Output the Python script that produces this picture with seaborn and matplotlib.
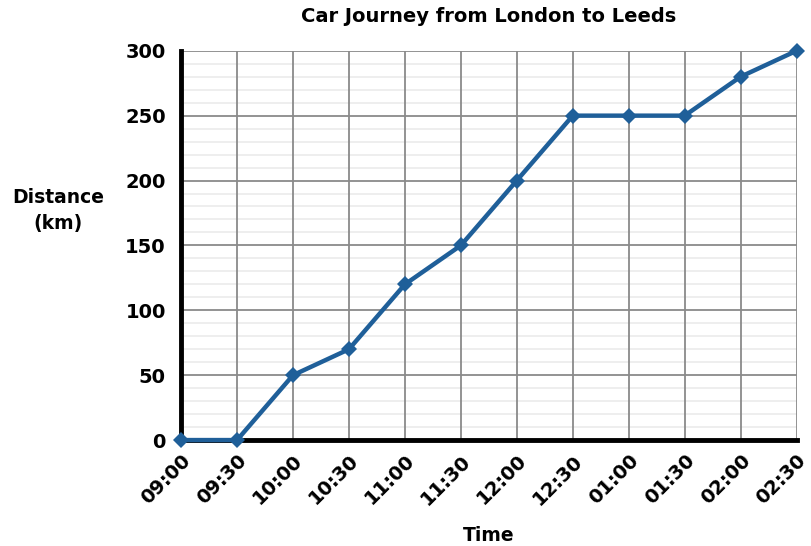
import pandas as pd
import numpy as np
import matplotlib.pyplot as plt
import seaborn as sns
from matplotlib.ticker import MultipleLocator

times = ["09:00", "09:30", "10:00", "10:30", "11:00", "11:30",
         "12:00", "12:30", "01:00", "01:30", "02:00", "02:30"]
distance = [0, 0, 50, 70, 120, 150, 200, 250, 250, 250, 280, 300]

df = pd.DataFrame({"time": times, "distance": distance})
df["pos"] = range(len(df))

sns.set_style("white")
plt.rcParams["font.family"] = ["DejaVu Sans"]
plt.rcParams["font.weight"] = "bold"
plt.rcParams["text.color"] = "black"
plt.rcParams["axes.labelcolor"] = "black"
plt.rcParams["xtick.color"] = "black"
plt.rcParams["ytick.color"] = "black"

fig = plt.figure(figsize=(8.12, 5.46), dpi=100)
ax = fig.add_axes([0.223, 0.194, 0.758, 0.713])

sns.lineplot(data=df, x="pos", y="distance", ax=ax, color="#1f5f99",
             linewidth=3.2, marker="D", markersize=8.5, markeredgewidth=0,
             zorder=5, clip_on=False)

ax.set_xlim(0, len(times) - 1)
ax.set_ylim(0, 300)
ax.set_xticks(df["pos"])
ax.set_xticklabels(times, rotation=45, ha="right", rotation_mode="anchor",
                   fontsize=14, fontweight="bold")
ax.yaxis.set_major_locator(MultipleLocator(50))
ax.yaxis.set_minor_locator(MultipleLocator(10))
ax.tick_params(axis="y", labelsize=14, length=0, pad=11)
ax.tick_params(axis="x", length=0, pad=8)
for lab in ax.get_yticklabels():
    lab.set_fontweight("bold")

ax.grid(which="major", color="#8a8a8a", linewidth=1.3)
ax.grid(which="minor", axis="y", color="#ebebeb", linewidth=1.2)
ax.set_axisbelow(True)
# vertical grid lines above the light minor lines
ax.xaxis.set_zorder(0.7)

for s in ["top", "right"]:
    ax.spines[s].set_visible(False)
ax.spines["left"].set_linewidth(3.5)
ax.spines["bottom"].set_linewidth(3.5)
ax.spines["left"].set_color("black")
ax.spines["bottom"].set_color("black")
ax.spines["left"].set_zorder(4)
ax.spines["bottom"].set_zorder(4)

ax.set_title("Car Journey from London to Leeds", fontsize=14, fontweight="bold", pad=21)
ax.set_xlabel("Time", fontsize=13.5, fontweight="bold", labelpad=13)
ax.set_ylabel("Distance\n(km)", fontsize=13.5, fontweight="bold", rotation=0,
              ha="center", va="center", labelpad=0, linespacing=1.5)
ax.yaxis.set_label_coords(-0.2, 0.59)

plt.savefig("out.png", dpi=100)
